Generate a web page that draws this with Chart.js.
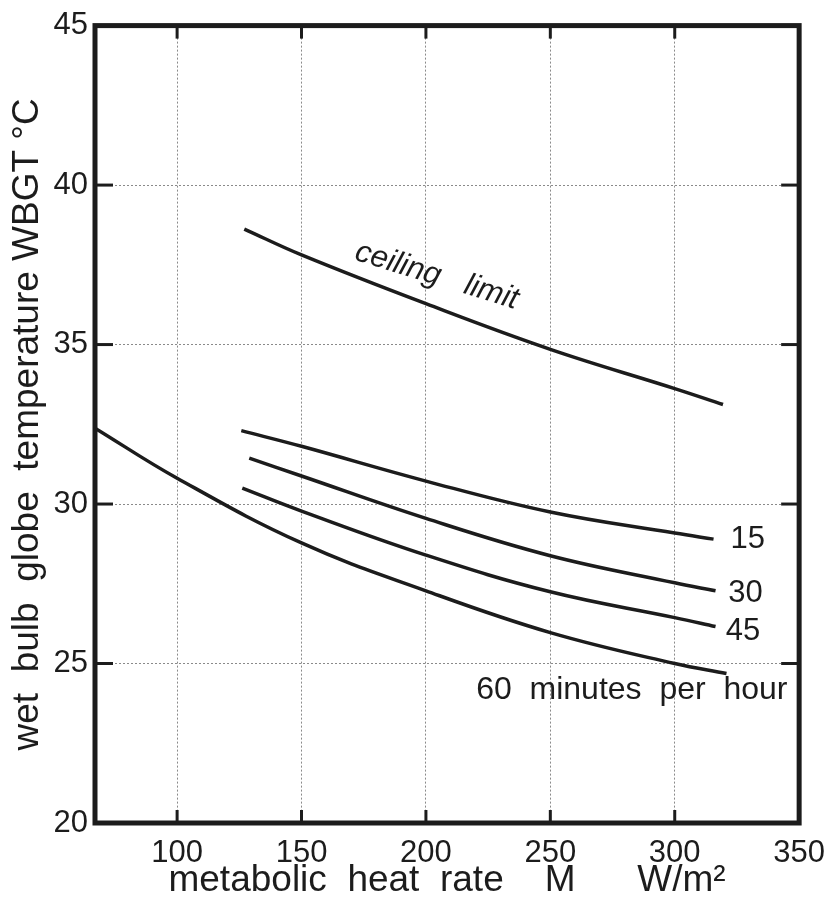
<!DOCTYPE html>
<html>
<head>
<meta charset="utf-8">
<script src="https://cdn.jsdelivr.net/npm/chart.js@4/dist/chart.umd.min.js"></script>
<style>
  html, body { margin: 0; padding: 0; background: #fff; }
</style>
</head>
<body>
<canvas id="wbgt" width="837" height="903"></canvas>
<script>
// values (M in W/m2, WBGT in degC)
const xTicks = [100, 150, 200, 250, 300, 350];
const yTicks = [20, 25, 30, 35, 40, 45];

const ceilingX = [127, 150, 200, 250, 300, 319.4];
const ceilingY = [38.62, 37.81, 36.28, 34.85, 33.62, 33.12];

const min15X = [125.8, 150, 200, 250, 300, 315.6];
const min15Y = [32.3, 31.81, 30.72, 29.75, 29.09, 28.9];

const min30X = [129, 150, 200, 250, 300, 316.4];
const min30Y = [31.44, 30.88, 29.55, 28.38, 27.53, 27.28];

const min45X = [126.2, 150, 200, 250, 300, 316.4];
const min45Y = [30.5, 29.78, 28.4, 27.25, 26.44, 26.16];

const min60X = [67, 100, 150, 200, 250, 300, 320.8];
const min60Y = [32.38, 30.81, 28.78, 27.28, 25.97, 25.0, 24.69];

const pts = (xs, ys) => xs.map((x, i) => ({ x: x, y: ys[i] }));

const INK = '#1c1c1c';
const FONT = "'Liberation Sans', Arial, sans-serif";

function line(xs, ys) {
  return {
    data: pts(xs, ys),
    borderColor: INK,
    borderWidth: 3.5,
    pointRadius: 0,
    fill: false,
    tension: 0.4
  };
}

// frame, inward tick marks and curve labels
const framePlugin = {
  id: 'frame',
  afterDraw(chart) {
    const { ctx, chartArea: a, scales: { x, y } } = chart;
    ctx.save();
    ctx.strokeStyle = INK;
    ctx.lineWidth = 3;
    xTicks.slice(0, -1).forEach(v => {
      const px = x.getPixelForValue(v);
      ctx.beginPath(); ctx.moveTo(px, a.bottom); ctx.lineTo(px, a.bottom - 13); ctx.stroke();
      ctx.beginPath(); ctx.moveTo(px, a.top); ctx.lineTo(px, a.top + 13); ctx.stroke();
    });
    yTicks.slice(1, -1).forEach(v => {
      const py = y.getPixelForValue(v);
      ctx.beginPath(); ctx.moveTo(a.left, py); ctx.lineTo(a.left + 18, py); ctx.stroke();
      ctx.beginPath(); ctx.moveTo(a.right, py); ctx.lineTo(a.right - 18, py); ctx.stroke();
    });
    ctx.lineWidth = 5;
    ctx.strokeRect(a.left, a.top, a.right - a.left, a.bottom - a.top);

    ctx.fillStyle = INK;
    ctx.textBaseline = 'middle';
    ctx.textAlign = 'left';
    ctx.font = "31px " + FONT;
    ctx.fillText('15', x.getPixelForValue(322.4), y.getPixelForValue(28.9));
    ctx.fillText('30', x.getPixelForValue(321.5), y.getPixelForValue(27.2));
    ctx.fillText('45', x.getPixelForValue(320.5), y.getPixelForValue(26.0));
    ctx.font = "32px " + FONT;
    ctx.fillText('60  minutes  per  hour', x.getPixelForValue(220.2), y.getPixelForValue(24.15));

    ctx.translate(x.getPixelForValue(204.4), y.getPixelForValue(37.15));
    ctx.rotate(17 * Math.PI / 180);
    ctx.textAlign = 'center';
    ctx.font = "italic 31px " + FONT;
    ctx.fillText('ceiling   limit', 0, 0);
    ctx.restore();
  }
};

new Chart(document.getElementById('wbgt'), {
  type: 'line',
  data: {
    datasets: [
      line(ceilingX, ceilingY),
      line(min15X, min15Y),
      line(min30X, min30Y),
      line(min45X, min45Y),
      line(min60X, min60Y)
    ]
  },
  options: {
    responsive: false,
    animation: false,
    layout: { padding: { top: 22, right: 35, left: 0, bottom: 0 } },
    plugins: { legend: { display: false }, tooltip: { enabled: false } },
    scales: {
      x: {
        type: 'linear',
        min: 67,
        max: 350,
        afterBuildTicks: axis => { axis.ticks = xTicks.map(v => ({ value: v })); },
        afterFit: axis => { axis.height = 80; },
        ticks: { color: INK, font: { family: FONT, size: 31 }, padding: 12, maxRotation: 0 },
        grid: { color: '#8a8a8a', lineWidth: 1, drawTicks: false },
        border: { display: false, dash: [2, 2] },
        title: {
          display: true,
          text: 'metabolic  heat  rate    M      W/m²',
          color: INK,
          font: { family: FONT, size: 37 },
          padding: { top: 0, bottom: 0 }
        }
      },
      y: {
        min: 20,
        max: 45,
        afterBuildTicks: axis => { axis.ticks = yTicks.map(v => ({ value: v })); },
        afterFit: axis => { axis.width = 95; },
        ticks: { color: INK, font: { family: FONT, size: 31 }, padding: 7 },
        grid: { color: '#8a8a8a', lineWidth: 1, drawTicks: false },
        border: { display: false, dash: [2, 2] },
        title: {
          display: true,
          text: 'wet  bulb  globe  temperature WBGT °C',
          color: INK,
          font: { family: FONT, size: 37 },
          padding: { top: 6, bottom: 0 }
        }
      }
    }
  },
  plugins: [framePlugin]
});
</script>
</body>
</html>
